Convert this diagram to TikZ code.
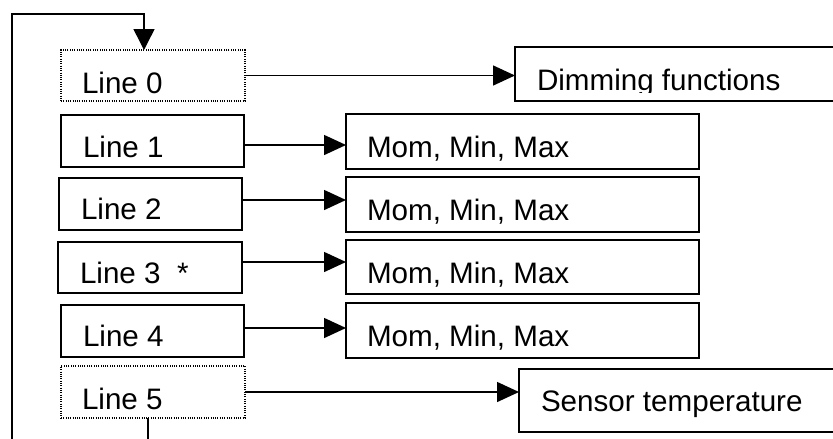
\documentclass[tikz,border=0pt]{standalone}
\usepackage{fontspec}
\setmainfont{Liberation Sans}
\usetikzlibrary{arrows.meta}
\begin{document}
\begin{tikzpicture}[x=1pt,y=-1pt,
  box/.style={draw, line width=1.6pt, anchor=north west, inner sep=0pt, outer sep=0pt},
  dotbox/.style={draw, line width=1.2pt, dash pattern=on 1pt off 1.3pt, anchor=north west, inner sep=0pt, outer sep=0pt},
  txt/.style={anchor=base west, inner sep=0pt, outer sep=0pt, font=\fontsize{29.6}{35}\selectfont},
  arr/.style={line width=1.5pt, -{Triangle[length=22pt,width=20pt]}},
  loopline/.style={line width=1.5pt, -{Triangle[length=21pt,width=21pt]}},
]
\useasboundingbox (0,0) rectangle (833,439);
\clip (0,0) rectangle (833,439);

% left column
\node[dotbox, minimum width=184pt, minimum height=51pt, label={[txt, xshift=21pt, yshift=8pt]south west:Line 0}] (L0) at (61,50) {};
\node[box, minimum width=183pt, minimum height=52pt, label={[txt, xshift=22pt, yshift=10pt]south west:Line 1}] (L1) at (61,115) {};
\node[box, minimum width=183pt, minimum height=52pt, label={[txt, xshift=22pt, yshift=11pt]south west:Line 2}] (L2) at (59,178) {};
\node[box, minimum width=184pt, minimum height=51pt, label={[txt, xshift=22pt, yshift=10pt]south west:Line 3~~*}] (L3) at (58,242) {};
\node[box, minimum width=183pt, minimum height=52pt, label={[txt, xshift=22pt, yshift=11pt]south west:Line 4}] (L4) at (61,305) {};
\node[dotbox, minimum width=184pt, minimum height=52pt, label={[txt, xshift=21pt, yshift=9pt]south west:Line 5}] (L5) at (61,366) {};

% right column
\node[box, minimum width=353pt, minimum height=55pt, label={[txt, xshift=21pt, yshift=12pt]south west:Mom, Min, Max}] (M1) at (346,114) {};
\node[box, minimum width=353pt, minimum height=55pt, label={[txt, xshift=21pt, yshift=12pt]south west:Mom, Min, Max}] (M2) at (346,177) {};
\node[box, minimum width=353pt, minimum height=54pt, label={[txt, xshift=21pt, yshift=11pt]south west:Mom, Min, Max}] (M3) at (346,240) {};
\node[box, minimum width=353pt, minimum height=55pt, label={[txt, xshift=21pt, yshift=12pt]south west:Mom, Min, Max}] (M4) at (346,303) {};

\node[box, minimum width=340pt, minimum height=54pt] (Dim) at (515,47) {};
\begin{scope}
  \clip (515,47) rectangle (833,92);
  \node[txt] (DimT) at (537,90) {Dimming functions};
\end{scope}
\node[box, minimum width=340pt, minimum height=63pt, label={[txt, xshift=22pt, yshift=21pt]south west:Sensor temperature}] (Sens) at (519,369) {};

% connectors
\draw[arr] (L0.east) -- (L0.east -| Dim.west);
\draw[arr] ([yshift=-4pt]L1.east) -- ([yshift=-4pt]L1.east -| M1.west);
\draw[arr] ([yshift=4pt]L2.east) -- ([yshift=4pt]L2.east -| M2.west);
\draw[arr] ([yshift=5.5pt]L3.east) -- ([yshift=5.5pt]L3.east -| M3.west);
\draw[arr] ([yshift=3pt]L4.east) -- ([yshift=3pt]L4.east -| M4.west);
\draw[arr] (L5.east) -- (L5.east -| Sens.west);

% feedback loop
\coordinate (loopin) at ([xshift=-9pt]L0.north);
\coordinate (loopout) at ([xshift=-5pt]L5.south);
\draw[loopline] (loopout) -- ++(0,40) -| (12,14) -| (loopin);
\end{tikzpicture}
\end{document}
